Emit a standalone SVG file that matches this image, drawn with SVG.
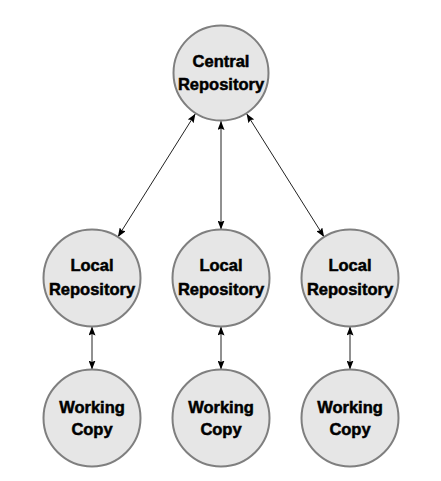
<svg xmlns="http://www.w3.org/2000/svg" width="441" height="481" viewBox="0 0 441 481">
  <style>
    .node circle { fill: #e6e6e6; stroke: #7f7f7f; stroke-width: 2; }
    .node text { font-family: "Liberation Sans", Arial, sans-serif; font-weight: bold; font-size: 16.5px; fill: #000; stroke: #000; stroke-width: 0.5; text-anchor: middle; }
    .conn line { stroke: #222; stroke-width: 1; fill: none; marker-start: url(#arr); marker-end: url(#arr); }
  </style>
  <defs>
    <marker id="arr" viewBox="0 0 9 7" refX="9" refY="3.5" markerWidth="9" markerHeight="7" markerUnits="userSpaceOnUse" orient="auto-start-reverse">
      <path d="M0,0 L9,3.5 L0,7 L1.5,3.5 Z" fill="#000"/>
    </marker>
  </defs>
  <rect width="441" height="481" fill="#fff"/>
  <g id="connectors" class="conn">
    <line x1="195.4" y1="113.7" x2="117.9" y2="236.9"/>
    <line x1="221" y1="121" x2="221" y2="229.5"/>
    <line x1="246.6" y1="113.7" x2="324.1" y2="236.9"/>
    <line x1="92" y1="326.5" x2="92" y2="369.5"/>
    <line x1="221" y1="326.5" x2="221" y2="369.5"/>
    <line x1="350" y1="326.5" x2="350" y2="369.5"/>
  </g>
  <g id="central" class="node">
    <circle cx="221" cy="73" r="47.5"/>
    <text x="221" y="67">Central</text>
    <text x="221" y="90">Repository</text>
  </g>
  <g id="local1" class="node">
    <circle cx="92" cy="278" r="48.5"/>
    <text x="92" y="271">Local</text>
    <text x="92" y="295">Repository</text>
  </g>
  <g id="local2" class="node">
    <circle cx="221" cy="278" r="48.5"/>
    <text x="221" y="271">Local</text>
    <text x="221" y="295">Repository</text>
  </g>
  <g id="local3" class="node">
    <circle cx="350" cy="278" r="48.5"/>
    <text x="350" y="271">Local</text>
    <text x="350" y="295">Repository</text>
  </g>
  <g id="working1" class="node">
    <circle cx="92" cy="418" r="48.5"/>
    <text x="92" y="413">Working</text>
    <text x="92" y="435">Copy</text>
  </g>
  <g id="working2" class="node">
    <circle cx="221" cy="418" r="48.5"/>
    <text x="221" y="413">Working</text>
    <text x="221" y="435">Copy</text>
  </g>
  <g id="working3" class="node">
    <circle cx="350" cy="418" r="48.5"/>
    <text x="350" y="413">Working</text>
    <text x="350" y="435">Copy</text>
  </g>
</svg>
